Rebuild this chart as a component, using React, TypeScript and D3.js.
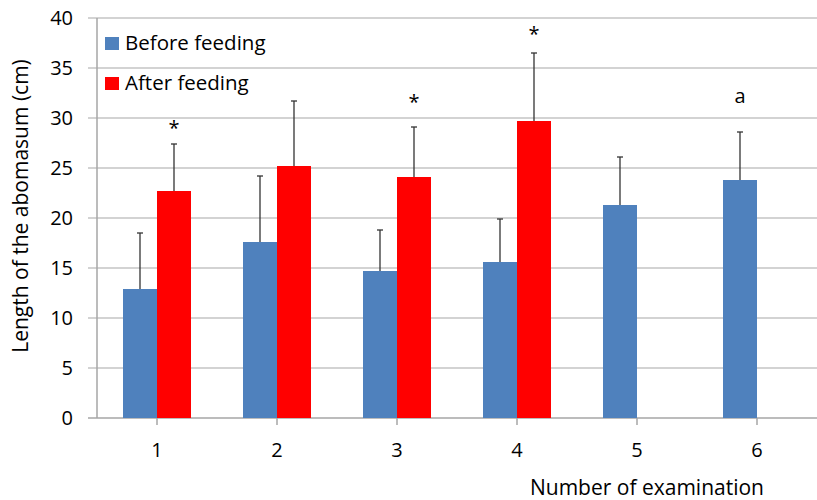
import * as d3 from "d3";

const width = 817;
const height = 500;

const examinations = ["1", "2", "3", "4", "5", "6"];
const seriesNames = ["Before feeding", "After feeding"];
const seriesColors = ["#4f81bd", "#ff0000"];

// means and mean + SD (upper whisker)
const beforeValues = [12.9, 17.6, 14.7, 15.6, 21.3, 23.8];
const beforeUpper = [18.5, 24.2, 18.8, 19.9, 26.1, 28.6];
const afterValues: (number | null)[] = [22.7, 25.2, 24.1, 29.7, null, null];
const afterUpper: (number | null)[] = [27.4, 31.7, 29.1, 36.5, null, null];

// significance marks: examination, series, label, value level
const markCats = ["1", "3", "4", "6"];
const markSeries = [1, 1, 1, 0];
const markLabels = ["*", "*", "*", "a"];
const markLevels = [29.4, 32.0, 38.8, 32.0];

const yTicks = [0, 5, 10, 15, 20, 25, 30, 35, 40];

const font = "'Open Sans', sans-serif";

const App = () => {
  const x = d3.scaleBand().domain(examinations).range([97, 817]).padding(0);
  const groupW = 68;
  const x1 = d3.scaleBand().domain(seriesNames).range([0, groupW]).padding(0);
  const y = d3.scaleLinear().domain([0, 40]).range([418, 18]);

  const offset = (x.bandwidth() - groupW) / 2;
  const bx = (cat: string, s: number) =>
    (x(cat) as number) + offset + (x1(seriesNames[s]) as number);

  const series = [
    { values: beforeValues, upper: beforeUpper },
    { values: afterValues, upper: afterUpper },
  ];

  return (
    <svg
      width={width}
      height={height}
      style={{ position: "absolute", left: 0, top: 0, background: "#fff" }}
      fontFamily={font}
    >
      {/* gridlines */}
      {yTicks.map((t) => (
        <line
          key={t}
          x1={88}
          x2={817}
          y1={y(t)}
          y2={y(t)}
          stroke={t === 0 ? "#a6a6a6" : "#c4c4c4"}
          strokeWidth={1.5}
        />
      ))}
      {/* y axis */}
      <line x1={97} x2={97} y1={y(40)} y2={y(0)} stroke="#a6a6a6" strokeWidth={1.5} />
      {yTicks.map((t) => (
        <text
          key={t}
          x={73}
          y={y(t)}
          dy="0.36em"
          textAnchor="end"
          fontSize={20}
          fill="#000"
        >
          {t}
        </text>
      ))}
      {/* x ticks */}
      {examinations.map((c) => {
        const cx = (x(c) as number) + x.bandwidth() / 2;
        return (
          <g key={c}>
            <line x1={cx} x2={cx} y1={y(0)} y2={y(0) + 7} stroke="#a6a6a6" strokeWidth={1.5} />
            <text x={cx} y={457} textAnchor="middle" fontSize={20}>
              {c}
            </text>
          </g>
        );
      })}

      {/* bars */}
      {series.map((s, si) =>
        examinations.map((c, i) => {
          const v = s.values[i];
          if (v == null) return null;
          return (
            <rect
              key={`${si}-${c}`}
              x={bx(c, si)}
              y={y(v)}
              width={x1.bandwidth()}
              height={y(0) - y(v)}
              fill={seriesColors[si]}
            />
          );
        })
      )}

      {/* error bars */}
      {series.map((s, si) =>
        examinations.map((c, i) => {
          const v = s.values[i];
          const u = s.upper[i];
          if (v == null || u == null) return null;
          const cx = bx(c, si) + x1.bandwidth() / 2;
          return (
            <g key={`e${si}-${c}`} stroke="#333" strokeWidth={1.3}>
              <line x1={cx} x2={cx} y1={y(v)} y2={y(u)} />
              <line x1={cx - 3} x2={cx + 3} y1={y(u)} y2={y(u)} />
            </g>
          );
        })
      )}

      {/* significance marks */}
      {markLabels.map((m, i) => {
        const cx = bx(markCats[i], markSeries[i]) + x1.bandwidth() / 2;
        const isStar = m === "*";
        return (
          <text
            key={i}
            x={cx}
            y={y(markLevels[i])}
            dy={isStar ? "0.55em" : "0.27em"}
            textAnchor="middle"
            fontSize={20}
          >
            {m}
          </text>
        );
      })}

      {/* legend */}
      {seriesNames.map((n, i) => (
        <g key={n} transform={`translate(105, ${37 + i * 40})`}>
          <rect width={14} height={13} fill={seriesColors[i]} />
          <text x={20} y={13} fontSize={20.5}>
            {n}
          </text>
        </g>
      ))}

      {/* axis titles */}
      <text x={647} y={495} textAnchor="middle" fontSize={21}>
        Number of examination
      </text>
      <text
        transform="translate(28, 206) rotate(-90)"
        textAnchor="middle"
        fontSize={21}
      >
        Length of the abomasum (cm)
      </text>
    </svg>
  );
};

export default App;
